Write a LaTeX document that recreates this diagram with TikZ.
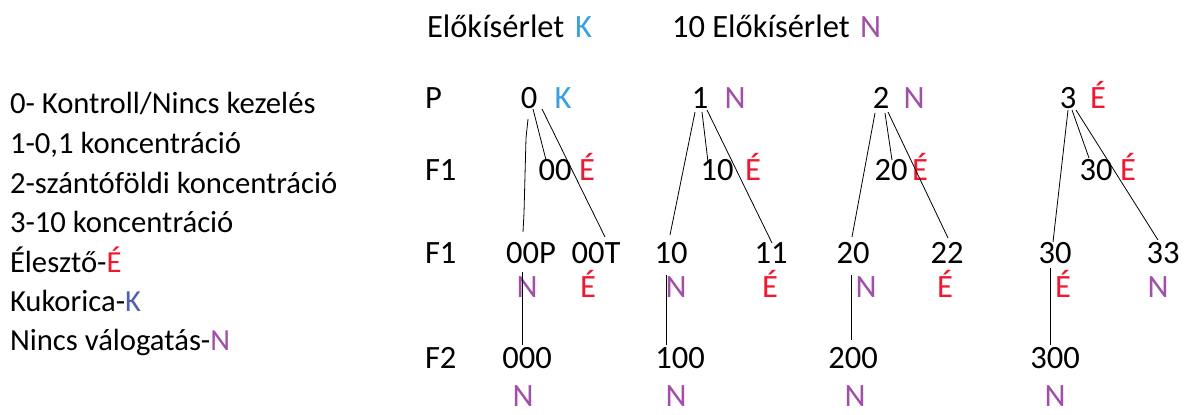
\documentclass[tikz,border=0pt]{standalone}
\usepackage{fontspec}
\setmainfont{Carlito}
\definecolor{kblue}{RGB}{58,160,224}
\definecolor{kslate}{RGB}{80,96,176}
\definecolor{npurple}{RGB}{160,80,168}
\definecolor{ered}{RGB}{240,24,48}
\begin{document}
\begin{tikzpicture}[x=0.75pt,y=-0.75pt,
  txt/.style={inner sep=0pt,outer sep=0pt,anchor=base,font=\fontsize{24.4}{29}\selectfont},
  ltxt/.style={txt,anchor=base west},
  legtxt/.style={ltxt,font=\fontsize{23}{28}\selectfont},
  nn/.style={txt,text=npurple},
  ee/.style={txt,text=ered},
  kk/.style={txt,text=kblue},
  link/.style={draw=black,line width=0.6pt}]
\useasboundingbox (0,0) rectangle (1191,414);
% header
\node[ltxt] (h1) at (427,37) {Előkísérlet};
\node[kk,anchor=base west] (h1k) at (575,37) {K};
\node[ltxt] (h2) at (672,37) {10 Előkísérlet};
\node[nn,anchor=base west] (h2n) at (860,37) {N};
% legend
\node[legtxt] (l1) at (10,113) {0- Kontroll/Nincs kezelés};
\node[legtxt] (l2) at (10,153) {1-0,1 koncentráció};
\node[legtxt] (l3) at (10,193) {2-szántóföldi koncentráció};
\node[legtxt] (l4) at (10,232) {3-10 koncentráció};
\node[legtxt] (l5) at (10,272) {Élesztő-\textcolor{ered}{É}};
\node[legtxt] (l6) at (10,311) {Kukorica-\textcolor{kslate}{K}};
\node[legtxt] (l7) at (10,350) {Nincs válogatás-\textcolor{npurple}{N}};
% generation labels
\node[ltxt] (gP) at (425,108) {P};
\node[ltxt] (gF1) at (425,180) {F1};
\node[ltxt] (gF1b) at (425,263) {F1};
\node[ltxt] (gF2) at (425,368) {F2};
% P row
\node[txt] (p0) at (529,108) {0};   \node[kk] (p0k) at (563,108) {K};
\node[txt] (p1) at (700,108) {1};   \node[nn] (p1n) at (735,108) {N};
\node[txt] (p2) at (881,108) {2};   \node[nn] (p2n) at (914,108) {N};
\node[txt] (p3) at (1068,108) {3};  \node[ee] (p3e) at (1098,108) {É};
% F1 row
\node[txt] (f00) at (555,180) {00};  \node[ee] (f00e) at (587,180) {É};
\node[txt] (f10) at (717,180) {10};  \node[ee] (f10e) at (753,180) {É};
\node[txt] (f20) at (891,180) {20};  \node[ee] (f20e) at (920,180) {É};
\node[txt] (f30) at (1096,180) {30}; \node[ee] (f30e) at (1128,180) {É};
% F1 second row
\node[txt] (g00p) at (531,263) {00P};
\node[txt] (g00t) at (596,263) {00T};
\node[txt] (g10) at (671,263) {10};
\node[txt] (g11) at (771,263) {11};
\node[txt] (g20) at (853,263) {20};
\node[txt] (g22) at (947,263) {22};
\node[txt] (g30) at (1055,263) {30};
\node[txt] (g33) at (1163,263) {33};
\node[nn] (m1) at (527,297) {N};
\node[ee] (m2) at (588,297) {É};
\node[nn] (m3) at (676,297) {N};
\node[ee] (m4) at (770,297) {É};
\node[nn] (m5) at (866,297) {N};
\node[ee] (m6) at (945,297) {É};
\node[ee] (m7) at (1063,297) {É};
\node[nn] (m8) at (1158,297) {N};
% F2 row
\node[txt] (h000) at (527,368) {000};
\node[txt] (h100) at (680,368) {100};
\node[txt] (h200) at (853,368) {200};
\node[txt] (h300) at (1055,368) {300};
\node[nn] (b1) at (523,406) {N};
\node[nn] (b2) at (676,406) {N};
\node[nn] (b3) at (855,406) {N};
\node[nn] (b4) at (1055,406) {N};
% connector end points
\coordinate (s0a) at (528,119); \coordinate (e0a) at (523,232);
\coordinate (s0b) at (533,109); \coordinate (e0b) at (546,160);
\coordinate (s0c) at (542,109); \coordinate (e0c) at (605,237);
\coordinate (s1a) at (695,112); \coordinate (e1a) at (670,235);
\coordinate (s1b) at (702,112); \coordinate (e1b) at (708,162);
\coordinate (s1c) at (707,110); \coordinate (e1c) at (772,243);
\coordinate (s2a) at (875,113); \coordinate (e2a) at (852,237);
\coordinate (s2b) at (885,113); \coordinate (e2b) at (892,160);
\coordinate (s2c) at (888,112); \coordinate (e2c) at (948,238);
\coordinate (s3a) at (1068,110); \coordinate (e3a) at (1053,242);
\coordinate (s3b) at (1072,110); \coordinate (e3b) at (1089,158);
\coordinate (s3c) at (1076,110); \coordinate (e3c) at (1158,240);
\coordinate (v0s) at (522,272); \coordinate (v0e) at (522,345);
\coordinate (v1s) at (666,275); \coordinate (v1e) at (666,345);
\coordinate (v2s) at (851,275); \coordinate (v2e) at (851,340);
\coordinate (v3s) at (1050,268); \coordinate (v3e) at (1050,345);
% connectors
\draw[link] (s0a) -- (526,138) -- (524,213) -- (e0a);
\draw[link] (s0b) -- (e0b);
\draw[link] (s0c) -- (e0c);
\draw[link] (s1a) -- (e1a);
\draw[link] (s1b) -- (e1b);
\draw[link] (s1c) -- (e1c);
\draw[link] (s2a) -- (e2a);
\draw[link] (s2b) -- (e2b);
\draw[link] (s2c) -- (e2c);
\draw[link] (s3a) -- (e3a);
\draw[link] (s3b) -- (e3b);
\draw[link] (s3c) -- (e3c);
\draw[link] (v0s) -- (v0e);
\draw[link] (v1s) -- (v1e);
\draw[link] (v2s) -- (v2e);
\draw[link] (v3s) -- (v3e);
\end{tikzpicture}
\end{document}
